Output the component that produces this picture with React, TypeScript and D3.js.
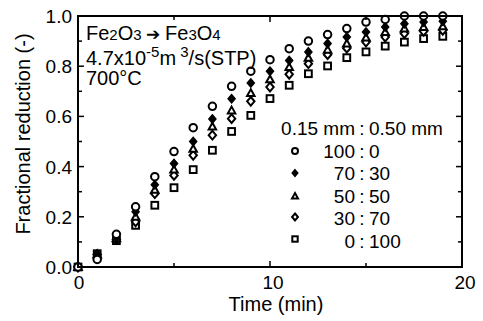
import React from "react";
import * as d3 from "d3";

const times = [0, 1, 2, 3, 4, 5, 6, 7, 8, 9, 10, 11, 12, 13, 14, 15, 16, 17, 18, 19];
const s100_0 = [0.0, 0.03, 0.13, 0.24, 0.36, 0.46, 0.555, 0.64, 0.72, 0.78, 0.826, 0.87, 0.9, 0.926, 0.95, 0.976, 0.986, 1.0, 1.0, 1.0];
const s70_30 = [0.0, 0.05, 0.12, 0.22, 0.328, 0.412, 0.5, 0.59, 0.67, 0.733, 0.78, 0.823, 0.857, 0.89, 0.916, 0.936, 0.956, 0.969, 0.976, 0.979];
const s50_50 = [0.0, 0.05, 0.115, 0.2, 0.308, 0.388, 0.471, 0.56, 0.624, 0.693, 0.748, 0.797, 0.834, 0.866, 0.89, 0.914, 0.936, 0.95, 0.956, 0.959];
const s30_70 = [0.0, 0.05, 0.11, 0.18, 0.292, 0.365, 0.445, 0.525, 0.591, 0.66, 0.717, 0.768, 0.81, 0.846, 0.872, 0.896, 0.916, 0.93, 0.939, 0.943];
const s0_100 = [0.0, 0.053, 0.105, 0.166, 0.246, 0.316, 0.388, 0.465, 0.54, 0.604, 0.671, 0.724, 0.77, 0.801, 0.834, 0.857, 0.88, 0.896, 0.91, 0.919];

const seriesLeft = ["100", "70", "50", "30", "0"];
const seriesRight = ["0", "30", "50", "70", "100"];
const seriesSymbols = ["circle", "filledDiamond", "triangle", "diamond", "square"];
const seriesValues = [s100_0, s70_30, s50_50, s30_70, s0_100];

const xMajorTicks = [0, 10, 20];
const xMinorTicks = [5, 15];
const yMajorTicks = [0, 0.2, 0.4, 0.6, 0.8, 1.0];
const yMinorTicks = [0.1, 0.3, 0.5, 0.7, 0.9];

const W = 483;
const H = 321;
const L = 78, R = 462, T = 16, B = 267;
const FONT = "'Liberation Sans', Arial, Helvetica, sans-serif";
const INK = "#000";

function Marker({ kind, cx, cy, s }: { kind: string; cx: number; cy: number; s: number }) {
  const sw = 2;
  if (kind === "circle") return <circle cx={cx} cy={cy} r={s * 0.5} fill="#fff" stroke={INK} strokeWidth={sw} />;
  if (kind === "square")
    return <rect x={cx - s * 0.45} y={cy - s * 0.45} width={s * 0.9} height={s * 0.9} fill="#fff" stroke={INK} strokeWidth={sw} />;
  if (kind === "triangle") {
    const h = s * 0.5;
    return <path d={`M${cx},${cy - h} L${cx + h},${cy + h * 0.8} L${cx - h},${cy + h * 0.8} Z`} fill="#fff" stroke={INK} strokeWidth={sw} />;
  }
  const h = s * 0.58;
  const d = `M${cx},${cy - h} L${cx + h * 0.85},${cy} L${cx},${cy + h} L${cx - h * 0.85},${cy} Z`;
  if (kind === "filledDiamond") return <path d={d} fill={INK} stroke={INK} strokeWidth={1.2} />;
  return <path d={d} fill="#fff" stroke={INK} strokeWidth={sw} />;
}

export default function App() {
  const x = d3.scaleLinear().domain([0, 20]).range([L, R]);
  const y = d3.scaleLinear().domain([0, 1]).range([B, T]);

  const legendBase = [158, 180, 203, 225, 248];
  const legendSym = [151, 173, 196, 217, 239];
  const colonX = 362;

  return (
    <svg width={W} height={H} style={{ position: "absolute", left: 0, top: 0, background: "#fff" }} fontFamily={FONT}>
      <rect x={0} y={0} width={W} height={H} fill="#fff" />
      {seriesValues
        .map((vals, si) => (
          <g key={si}>
            {vals.map((v, i) => (
              <Marker key={i} kind={seriesSymbols[si]} cx={x(times[i])} cy={y(v)} s={7.5} />
            ))}
          </g>
        ))
        .reverse()}
      <rect x={L} y={T} width={R - L} height={B - T} fill="none" stroke={INK} strokeWidth={2} />
      {yMajorTicks.map((t) => (
        <g key={"ym" + t}>
          <line x1={L} x2={L + 6} y1={y(t)} y2={y(t)} stroke={INK} strokeWidth={1.5} />
          <line x1={R} x2={R - 6} y1={y(t)} y2={y(t)} stroke={INK} strokeWidth={1.5} />
          <text x={72} y={y(t) + 7} textAnchor="end" fontSize={19} fill={INK}>
            {d3.format(".1f")(t)}
          </text>
        </g>
      ))}
      {yMinorTicks.map((t) => (
        <g key={"yn" + t}>
          <line x1={L} x2={L + 4} y1={y(t)} y2={y(t)} stroke={INK} strokeWidth={1.5} />
          <line x1={R} x2={R - 4} y1={y(t)} y2={y(t)} stroke={INK} strokeWidth={1.5} />
        </g>
      ))}
      {xMajorTicks.map((t) => (
        <g key={"xm" + t}>
          <line x1={x(t)} x2={x(t)} y1={B} y2={B - 6} stroke={INK} strokeWidth={1.5} />
          <line x1={x(t)} x2={x(t)} y1={T} y2={T + 6} stroke={INK} strokeWidth={1.5} />
          <text x={x(t) + (t > 0 ? 3 : 1)} y={289} textAnchor="middle" fontSize={19} fill={INK}>
            {t}
          </text>
        </g>
      ))}
      {xMinorTicks.map((t) => (
        <g key={"xn" + t}>
          <line x1={x(t)} x2={x(t)} y1={B} y2={B - 4} stroke={INK} strokeWidth={1.5} />
          <line x1={x(t)} x2={x(t)} y1={T} y2={T + 4} stroke={INK} strokeWidth={1.5} />
        </g>
      ))}
      <text x={276} y={311} textAnchor="middle" fontSize={20} fill={INK}>
        Time (min)
      </text>
      <text transform={`translate(30,134) rotate(-90)`} textAnchor="middle" fontSize={20} fill={INK}>
        Fractional reduction (-)
      </text>
      <text x={86} y={40} fontSize={20} fill={INK}>
        Fe<tspan fontSize={15}>2</tspan>O<tspan fontSize={15}>3</tspan>
        <tspan fontSize={17}> ➔ </tspan>Fe<tspan fontSize={15}>3</tspan>O<tspan fontSize={15}>4</tspan>
      </text>
      <text x={86} y={65} fontSize={20} fill={INK}>
        4.7x10<tspan fontSize={15} dy={-8}>-5</tspan>
        <tspan dy={8}>m</tspan>
        <tspan fontSize={15} dy={-8}> 3</tspan>
        <tspan dy={8}>/s(STP)</tspan>
      </text>
      <text x={86} y={85} fontSize={20} fill={INK}>
        700°C
      </text>
      <text x={colonX - 7} y={135} textAnchor="end" fontSize={19} fill={INK}>0.15 mm</text>
      <text x={colonX} y={135} textAnchor="middle" fontSize={19} fill={INK}>:</text>
      <text x={colonX + 7} y={135} fontSize={19} fill={INK}>0.50 mm</text>
      {seriesLeft.map((lab, i) => (
        <g key={"lg" + i}>
          <Marker kind={seriesSymbols[i]} cx={295} cy={legendSym[i]} s={6} />
          <text x={colonX - 7} y={legendBase[i]} textAnchor="end" fontSize={19} fill={INK}>{lab}</text>
          <text x={colonX} y={legendBase[i]} textAnchor="middle" fontSize={19} fill={INK}>:</text>
          <text x={colonX + 7} y={legendBase[i]} fontSize={19} fill={INK}>{seriesRight[i]}</text>
        </g>
      ))}
    </svg>
  );
}
